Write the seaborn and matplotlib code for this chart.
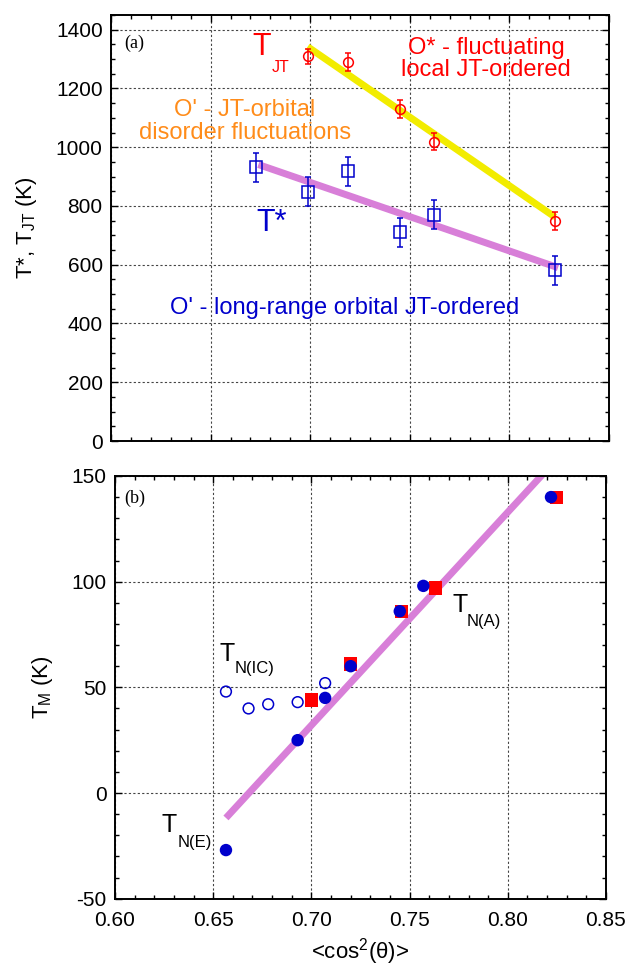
import numpy as np
import pandas as pd
import matplotlib
matplotlib.use("Agg")
import matplotlib.pyplot as plt
import seaborn as sns
from matplotlib.ticker import MultipleLocator

# ---- panel (a) data ----
tjt_x = [0.699, 0.719, 0.745, 0.762, 0.823]
tjt_y = [1309, 1290, 1130, 1019, 748]
tjt_err = [25, 30, 30, 30, 30]

tstar_x = [0.673, 0.699, 0.719, 0.745, 0.762, 0.823]
tstar_y = [932, 849, 918, 710, 770, 581]
tstar_err = [50, 50, 50, 50, 50, 50]

fit_jt_x = [0.6987, 0.8229]
fit_jt_y = [1342, 762]
fit_star_x = [0.674, 0.8244]
fit_star_y = [941, 590]

# ---- panel (b) data ----
tnic_x = [0.6565, 0.668, 0.678, 0.693, 0.707]
tnic_y = [48, 40, 42, 43, 52]

blue_x = [0.6565, 0.693, 0.707, 0.720, 0.745, 0.757, 0.822]
blue_y = [-27, 25, 45, 60, 86, 98, 140]

red_x = [0.700, 0.720, 0.746, 0.763, 0.825]
red_y = [44, 61, 86, 97, 140]

fit_m_x = [0.6565, 0.8175]
fit_m_y = [-11.8, 150.5]

RED = "#ff0000"
BLUE = "#0000cc"
YELLOW = "#f2ec00"
PURPLE = "#d87fd8"
ORANGE = "#ff8c1a"

sns.set_theme(style="ticks")
plt.rcParams["font.family"] = ["Liberation Sans", "DejaVu Sans"]
plt.rcParams["mathtext.default"] = "regular"
plt.rcParams["axes.unicode_minus"] = False
plt.rcParams["text.color"] = "black"
plt.rcParams["axes.labelcolor"] = "black"
plt.rcParams["axes.linewidth"] = 1.4

fig = plt.figure(figsize=(6.34, 9.68), dpi=100)
ax1 = fig.add_axes([0.1751, 0.5444, 0.7855, 0.4401])
ax2 = fig.add_axes([0.1814, 0.0716, 0.7744, 0.4367])


def style_axis(ax):
    ax.set_xlim(0.60, 0.85)
    ax.xaxis.set_major_locator(MultipleLocator(0.05))
    ax.xaxis.set_minor_locator(MultipleLocator(0.01))
    ax.tick_params(which="both", direction="in", top=True, right=True,
                   colors="black", labelcolor="black", width=1.0)
    ax.tick_params(which="major", length=5, labelsize=15, pad=6)
    ax.tick_params(axis="x", which="major", pad=9)
    ax.tick_params(which="minor", length=3)
    ax.grid(True, which="major", color="#444444", linestyle=(0, (2, 2)),
            linewidth=0.8)
    for s in ax.spines.values():
        s.set_color("black")
        s.set_linewidth(1.4)


# panel (a)
style_axis(ax1)
ax1.set_ylim(0, 1450)
ax1.yaxis.set_major_locator(MultipleLocator(200))
ax1.yaxis.set_minor_locator(MultipleLocator(50))
ax1.set_xticklabels([])

sns.lineplot(x=fit_jt_x, y=fit_jt_y, ax=ax1, color=YELLOW, linewidth=5,
             solid_capstyle="butt", zorder=2)
sns.lineplot(x=fit_star_x, y=fit_star_y, ax=ax1, color=PURPLE, linewidth=5,
             solid_capstyle="butt", zorder=2)
ax1.errorbar(tjt_x, tjt_y, yerr=tjt_err, fmt="o", ms=7, mfc="none",
             mec=RED, ecolor=RED, mew=1.1, elinewidth=1.1, capsize=2.5,
             zorder=3)
ax1.errorbar(tstar_x, tstar_y, yerr=tstar_err, fmt="s", ms=8, mfc="none",
             mec=BLUE, ecolor=BLUE, mew=1.1, elinewidth=1.1, capsize=2.5,
             zorder=3)

ax1.set_ylabel(r"T*, T$_{JT}$ (K)", fontsize=16, labelpad=12)
ax1.text(0.6065, 1352, "(a)", family="Liberation Serif", fontsize=13,
         ha="left", va="center")
ax1.text(0.6756, 1342, "T", color=RED, fontsize=22, ha="center", va="center")
ax1.text(0.6808, 1271, "JT", color=RED, fontsize=11.5, ha="left", va="center")
ax1.text(0.7883, 1300, "O* - fluctuating\nlocal JT-ordered", color=RED,
         fontsize=17, ha="center", va="center", linespacing=1.05)
ax1.text(0.6673, 1087, "O' - JT-orbital\ndisorder fluctuations", color=ORANGE,
         fontsize=17, ha="center", va="center", linespacing=1.05)
ax1.text(0.6728, 741, "T*", color=BLUE, fontsize=22, ha="left", va="center")
ax1.text(0.6296, 452, "O' - long-range orbital JT-ordered", color=BLUE,
         fontsize=17, ha="left", va="center")

# panel (b)
style_axis(ax2)
ax2.set_ylim(-50, 150)
ax2.yaxis.set_major_locator(MultipleLocator(50))
ax2.yaxis.set_minor_locator(MultipleLocator(10))

sns.lineplot(x=fit_m_x, y=fit_m_y, ax=ax2, color=PURPLE, linewidth=5,
             solid_capstyle="butt", zorder=2)
sns.scatterplot(x=tnic_x, y=tnic_y, ax=ax2, marker="o", s=60,
                facecolor="none", edgecolor=BLUE, linewidth=1.1, zorder=3)
sns.scatterplot(x=red_x, y=red_y, ax=ax2, marker="s", s=90, color=RED,
                edgecolor="none", zorder=3)
sns.scatterplot(x=blue_x, y=blue_y, ax=ax2, marker="o", s=80, color=BLUE,
                edgecolor="none", zorder=4)

ax2.set_ylabel(r"T$_{M}$ (K)", fontsize=16, labelpad=12)
ax2.set_xlabel(r"<cos$^{2}$($\theta$)>", fontsize=16, labelpad=4)
ax2.text(0.6046, 139.6, "(b)", family="Liberation Serif", fontsize=13,
         ha="left", va="center")
for tx, ty, sx, sy, sub in [(0.6534, 65.8, 0.661, 58.7, "N(IC)"),
                            (0.7719, 89.0, 0.779, 81.0, "N(A)"),
                            (0.6239, -15.1, 0.632, -23.2, "N(E)")]:
    ax2.text(tx, ty, "T", fontsize=18, ha="left", va="center")
    ax2.text(sx, sy, sub, fontsize=12, ha="left", va="center")

fig.savefig("out.png", dpi=100)
